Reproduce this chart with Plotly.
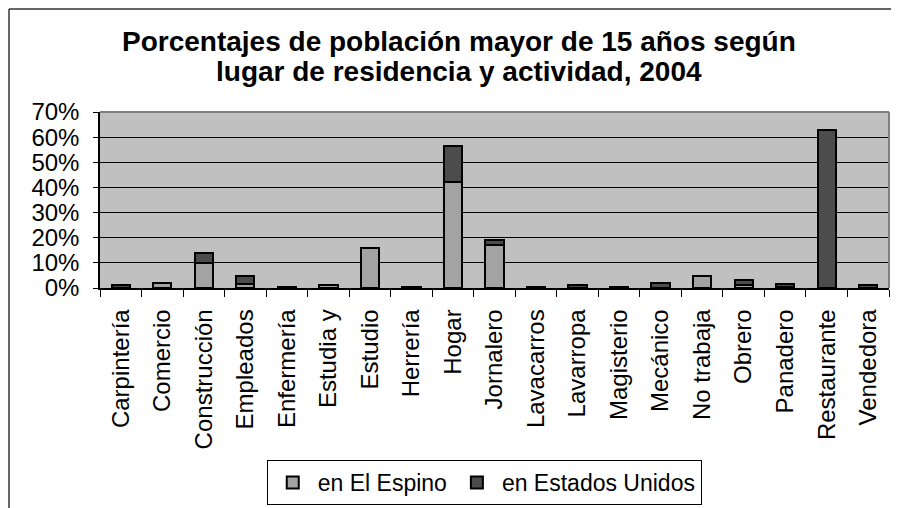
import plotly.graph_objects as go

# categorías y porcentajes
actividades = ['Carpintería', 'Comercio', 'Construcción', 'Empleados', 'Enfermería',
               'Estudia y', 'Estudio', 'Herrería', 'Hogar', 'Jornalero', 'Lavacarros',
               'Lavarropa', 'Magisterio', 'Mecánico', 'No trabaja', 'Obrero',
               'Panadero', 'Restaurante', 'Vendedora']
el_espino = [0, 2.1, 9.9, 1.7, 0.3, 1.3, 15.9, 0.3, 42.2, 17.0, 0, 0, 0, 0.2, 4.6, 1.2, 0.5, 0, 0]
estados_unidos = [1.0, 0, 4.1, 2.9, 0, 0, 0, 0, 14.4, 1.9, 0.3, 1.0, 0.3, 1.6, 0, 2.0, 1.0, 62.8, 1.0]
y_ticks = [0, 10, 20, 30, 40, 50, 60, 70]
y_labels = [f'{v}%' for v in y_ticks]

FONT = 'Liberation Sans, Arial, sans-serif'

fig = go.Figure()
fig.add_trace(go.Bar(x=actividades, y=el_espino, name='en El Espino',
                     marker=dict(color='#A3A3A3', line=dict(color='black', width=2))))
fig.add_trace(go.Bar(x=actividades, y=estados_unidos, name='en Estados Unidos',
                     marker=dict(color='#4C4C4C', line=dict(color='black', width=2))))

# la página añade 8px de margen al cuerpo, por eso se descuentan aquí
fig.update_layout(
    barmode='stack',
    bargap=0.56,
    width=899, height=508,
    margin=dict(l=92, r=18, t=104, b=228),
    paper_bgcolor='white',
    plot_bgcolor='#C0C0C0',
    font=dict(family=FONT, size=24, color='black'),
    legend=dict(orientation='h', x=0.487, xanchor='center',
                yref='container', y=1 - 452 / 508, yanchor='top',
                bordercolor='black', borderwidth=1, bgcolor='white',
                font=dict(size=23), itemwidth=40, traceorder='normal'),
    showlegend=True,
)

# título en dos líneas
fig.add_annotation(text='<b>Porcentajes de población mayor de 15 años según</b>',
                   xref='paper', yref='paper', x=0.455, y=(288 - 41) / 176,
                   xanchor='center', yanchor='middle', showarrow=False,
                   font=dict(size=28, family=FONT, color='black'))
fig.add_annotation(text='<b>lugar de residencia y actividad, 2004</b>',
                   xref='paper', yref='paper', x=0.455, y=(288 - 71) / 176,
                   xanchor='center', yanchor='middle', showarrow=False,
                   font=dict(size=28, family=FONT, color='black'))

fig.update_xaxes(tickangle=-90, showline=True, linecolor='black', linewidth=1.5,
                 ticks='outside', tickson='boundaries', ticklen=7, tickcolor='black',
                 ticklabelstandoff=10, showgrid=False, automargin=False)
fig.update_yaxes(range=[0, 70], tickvals=y_ticks, ticktext=y_labels, showline=True,
                 linecolor='black', linewidth=1.5, ticks='outside', ticklen=5,
                 tickcolor='black', ticklabelstandoff=9, showgrid=True,
                 gridcolor='black', gridwidth=1, zeroline=False, automargin=False)

# borde gris del área de trazado (arriba y derecha)
fig.add_shape(type='line', xref='paper', yref='paper', x0=0, x1=1, y0=1, y1=1,
              line=dict(color='#808080', width=2))
fig.add_shape(type='line', xref='paper', yref='paper', x0=1, x1=1, y0=0, y1=1,
              line=dict(color='#808080', width=2))
# marco exterior del gráfico (recortado a la derecha y abajo)
marco_x = -91 / 789
marco_y = 1 + (104 - 1) / 176
fig.add_shape(type='line', xref='paper', yref='paper', x0=marco_x, x1=marco_x, y0=-1.4, y1=marco_y,
              line=dict(color='#333333', width=1.5))
fig.add_shape(type='line', xref='paper', yref='paper', x0=marco_x, x1=1.1, y0=marco_y, y1=marco_y,
              line=dict(color='#333333', width=1.5))

fig.write_html('out.html')
